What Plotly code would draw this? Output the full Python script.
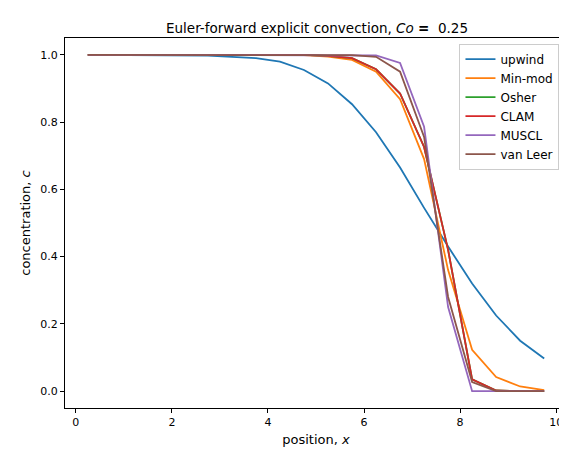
import plotly.graph_objects as go

x = [0.25 + 0.5 * i for i in range(20)]

upwind = [1.0, 1.0, 1.0, 1.0, 0.999, 0.998, 0.994, 0.99, 0.98, 0.955,
          0.915, 0.853, 0.77, 0.665, 0.545, 0.43, 0.32, 0.225, 0.15, 0.097]
minmod = [1.0, 1.0, 1.0, 1.0, 1.0, 1.0, 1.0, 1.0, 1.0, 0.999,
          0.995, 0.985, 0.95, 0.868, 0.69, 0.36, 0.123, 0.042, 0.014, 0.003]
clam = [1.0, 1.0, 1.0, 1.0, 1.0, 1.0, 1.0, 1.0, 1.0, 1.0,
        0.997, 0.99, 0.957, 0.885, 0.726, 0.42, 0.035, 0.002, 0.0, 0.0]
osher = list(clam)
muscl = [1.0, 1.0, 1.0, 1.0, 1.0, 1.0, 1.0, 1.0, 1.0, 1.0,
         1.0, 1.0, 0.998, 0.976, 0.786, 0.25, 0.0, 0.0, 0.0, 0.0]
vanleer = [1.0, 1.0, 1.0, 1.0, 1.0, 1.0, 1.0, 1.0, 1.0, 1.0,
           1.0, 0.999, 0.994, 0.95, 0.756, 0.28, 0.027, 0.0, 0.0, 0.0]

series = [("upwind", upwind, "#1f77b4"), ("Min-mod", minmod, "#ff7f0e"),
          ("Osher", osher, "#2ca02c"), ("CLAM", clam, "#d62728"),
          ("MUSCL", muscl, "#9467bd"), ("van Leer", vanleer, "#8c564b")]

fig = go.Figure()
for name, y, c in series:
    fig.add_trace(go.Scatter(x=x, y=y, mode="lines", name=name,
                             line=dict(color=c, width=1.8)))

axis = dict(showgrid=False, zeroline=False, showline=True, mirror=True,
            linecolor="black", linewidth=1, ticks="outside", ticklen=4,
            tickcolor="black", tickfont=dict(size=11), automargin=False)
fig.update_layout(
    width=567, height=454, template="none",
    font=dict(family="DejaVu Sans", size=11, color="black"),
    paper_bgcolor="white", plot_bgcolor="white",
    margin=dict(l=57, r=8, t=30, b=54),
    title=dict(text="Euler-forward explicit convection, <i>Co</i> <b>=</b>  0.25",
               x=0.545, xanchor="center", y=0.965, font=dict(size=13.5)),
    xaxis=dict(axis, range=[-0.225, 10.225], tickvals=[0, 2, 4, 6, 8, 10],
               title=dict(text="position, <i>x</i>", standoff=6)),
    yaxis=dict(axis, range=[-0.05, 1.05],
               tickvals=[0, 0.2, 0.4, 0.6, 0.8, 1.0], tickformat=".1f",
               title=dict(text="concentration, <i>c</i>", standoff=6)),
    legend=dict(x=0.985, y=0.985, xanchor="right", yanchor="top",
                bgcolor="rgba(255,255,255,0.8)", bordercolor="#ccc",
                borderwidth=1, font=dict(size=12)),
)
fig.write_html("out.html")
